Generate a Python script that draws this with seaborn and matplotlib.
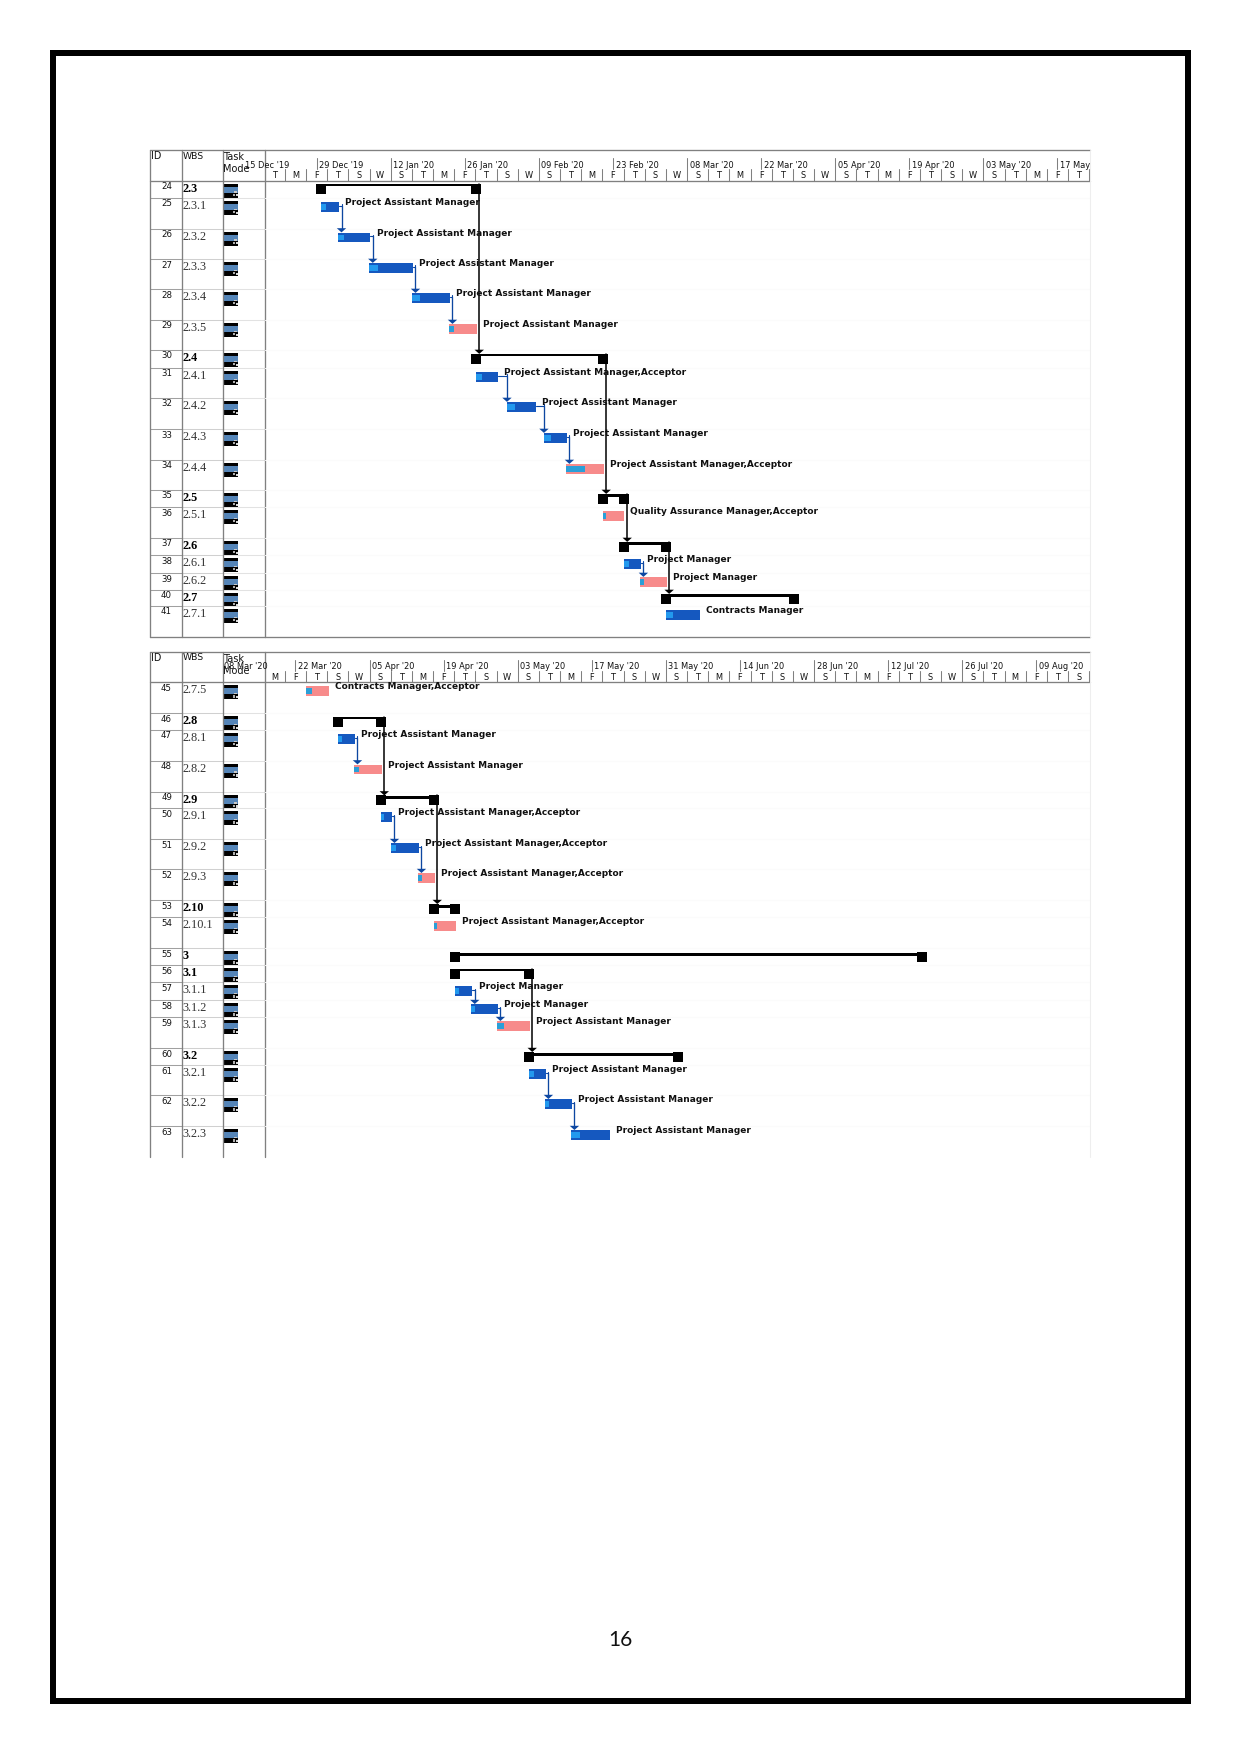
import matplotlib
matplotlib.use("Agg")
import matplotlib.pyplot as plt
import numpy as np
import pandas as pd
import seaborn as sns
from matplotlib.patches import Rectangle

# names used in the labels
PAM = "Project Assistant Manager"
PAMA = "Project Assistant Manager,Acceptor"
PM = "Project Manager"

# panel 1 (days are counted from p1_first_day)
p1_first_day = "2019-12-19"
p1_major = ["2019-12-15", "2019-12-29", "2020-01-12", "2020-01-26", "2020-02-09", "2020-02-23", "2020-03-08",
            "2020-03-22", "2020-04-05", "2020-04-19", "2020-05-03", "2020-05-17"]
p1_ids = [24, 25, 26, 27, 28, 29, 30, 31, 32, 33, 34, 35, 36, 37, 38, 39, 40, 41]
p1_wbs = ["2.3", "2.3.1", "2.3.2", "2.3.3", "2.3.4", "2.3.5", "2.4", "2.4.1", "2.4.2", "2.4.3", "2.4.4",
          "2.5", "2.5.1", "2.6", "2.6.1", "2.6.2", "2.7", "2.7.1"]
p1_summary = [24, 30, 35, 37, 40]
p1_critical = [29, 34, 36, 39]
p1_start = [10.67, 10.67, 13.89, 19.74, 27.87, 34.86, 39.96, 39.96, 45.82, 52.81, 56.96, 63.95, 63.95, 67.92,
            67.92, 70.94, 75.85, 75.85]
p1_finish = [39.96, 14.08, 19.99, 28.06, 35.05, 40.15, 63.95, 44.11, 51.29, 57.15, 64.14, 67.92, 67.92, 75.85,
             71.13, 76.04, 100.04, 82.28]
p1_progress = [0, 0.95, 1.13, 1.7, 1.5, 0.95, 0, 1.13, 1.5, 1.3, 3.6, 0, 0.65, 0, 1.0, 0.76, 0, 1.32]
p1_labels = ["", PAM, PAM, PAM, PAM, PAM, "", PAMA, PAM, PAM, PAMA, "", "Quality Assurance Manager,Acceptor", "",
             PM, PM, "", "Contracts Manager"]
p1_links = [(24, 30), (25, 26), (26, 27), (27, 28), (28, 29), (30, 35), (31, 32), (32, 33), (33, 34), (35, 37),
            (37, 40), (38, 39)]
p1_thin = [24, 30]
p1_row_h = [17.5, 30.5, 30.5, 30, 31, 30, 18, 30, 31, 31, 30, 17, 31, 17, 18, 17, 16, 31]

# panel 2
p2_first_day = "2020-03-16"
p2_major = ["2020-03-08", "2020-03-22", "2020-04-05", "2020-04-19", "2020-05-03", "2020-05-17", "2020-05-31",
            "2020-06-14", "2020-06-28", "2020-07-12", "2020-07-26", "2020-08-09"]
p2_ids = [45, 46, 47, 48, 49, 50, 51, 52, 53, 54, 55, 56, 57, 58, 59, 60, 61, 62, 63]
p2_wbs = ["2.7.5", "2.8", "2.8.1", "2.8.2", "2.9", "2.9.1", "2.9.2", "2.9.3", "2.10", "2.10.1", "3", "3.1",
          "3.1.1", "3.1.2", "3.1.3", "3.2", "3.2.1", "3.2.2", "3.2.3"]
p2_summary = [46, 49, 53, 55, 56, 60]
p2_critical = [45, 48, 52, 54, 59]
p2_start = [7.84, 13.89, 13.89, 16.91, 22.01, 22.01, 23.9, 29.0, 32.02, 32.02, 35.99, 35.99, 35.99, 39.01, 43.93,
            49.97, 49.97, 52.99, 57.91]
p2_finish = [12.19, 22.01, 17.1, 22.2, 32.02, 24.09, 29.19, 32.21, 35.99, 36.18, 124.22, 49.97, 39.26, 44.11,
             50.16, 78.12, 53.18, 58.1, 65.28]
p2_progress = [1.13, 0, 0.76, 0.95, 0, 0.57, 0.95, 0.76, 0, 0.57, 0, 0, 0.76, 0.76, 1.32, 0, 0.95, 0.76, 1.7]
p2_labels = ["Contracts Manager,Acceptor", "", PAM, PAM, "", PAMA, PAMA, PAMA, "", PAMA, "", "", PM, PM, PAM, "",
             PAM, PAM, PAM]
p2_links = [(46, 49), (47, 48), (49, 53), (50, 51), (51, 52), (56, 60), (57, 58), (58, 59), (61, 62), (62, 63)]
p2_thin = [46, 56]
p2_row_h = [31, 16.7, 30.7, 31, 16.6, 31, 30, 31, 17, 31, 17, 17, 18, 17, 31, 17, 30, 31, 30.4]

W, H = 1241, 1754
PPD = 5.293  # pixels per day
SPAN = 156   # days shown
PX = 0.72    # points per pixel at dpi 100
HEAD_SHIFT = -0.15  # header ticks sit a little left of the bars' scale
LEFT, COL1, COL2, COL3, RIGHT = 150, 181.5, 222.5, 264.5, 1090
GREY = "#808080"
BLUE, PINK = "#1558bf", "#f78b8b"
PROG, PROG_CRIT = "#2299ee", "#2a9fd8"
LINK = "#0d47a1"
INK = "#111111"

sns.set_theme(style="white")
plt.rcParams["font.family"] = "DejaVu Sans"

fig = plt.figure(figsize=(W / 100, H / 100), dpi=100, facecolor="white")


def px_axes(left, top, right, bottom):
    ax = fig.add_axes([left / W, 1 - bottom / H, (right - left) / W, (bottom - top) / H])
    ax.patch.set_alpha(0)
    return ax


def bar(ax, start, length, y, height, color):
    sns.barplot(x=[length], y=[y], left=start, orient="y", native_scale=True, width=height,
                color=color, saturation=1, linewidth=0, ax=ax)


def draw_panel(top, first_day, major, ids, wbs, summary, critical, start, finish, progress, labels, links, thin,
               row_h, closed):
    header = 30.6
    tops = np.concatenate([[0], np.cumsum(row_h)[:-1]])
    bottom = float(np.sum(row_h))
    ab = top + header + bottom
    tb = px_axes(LEFT, top, COL3, ab)
    ax = px_axes(COL3, top, RIGHT, ab)
    for a in (tb, ax):
        a.set_ylim(bottom, -header)

    centre = dict(zip(ids, tops + 8.7))
    days = dict(zip(ids, zip(start, finish)))

    # task bars and summary brackets
    for i, row in enumerate(ids):
        y = centre[row]
        s, f = start[i], finish[i]
        if row in summary:
            lw = 2 if row in thin else 3
            ax.plot([s, f], [y - 5 + lw / 2, y - 5 + lw / 2], color="black", lw=lw * PX, solid_capstyle="butt", zorder=3)
            sns.scatterplot(x=[s, f], y=[y, y], marker="s", s=52, color="black", linewidth=0, ax=ax, zorder=3)
        else:
            crit = row in critical
            bar(ax, s, f - s, y, 9.8, PINK if crit else BLUE)
            bar(ax, s, progress[i], y, 5.6, PROG_CRIT if crit else PROG)

    # links between tasks
    for a, b in links:
        is_sum = a in summary
        colour = "black" if is_sum else LINK
        f, next_s = days[a][1], days[b][0]
        if is_sum:
            x = f + 3.3 / PPD
            y0, y1 = centre[a] - 5, centre[b] - 5
        else:
            x = max(f + 2.5 / PPD, next_s)
            y0, y1 = centre[a] - 1, centre[b] - 5
            ax.plot([f, x, x], [y0, y0, y0 - 1.5], color=colour, lw=0.8, zorder=2)
        ax.plot([x, x], [y0, y1 - 3], color=colour, lw=1.1 if is_sum else 0.95, zorder=2)
        ax.fill([x - 4.7 / PPD, x + 4.7 / PPD, x], [y1 - 4.2, y1 - 4.2, y1], color=colour, lw=0, zorder=2)

    # resource labels
    for i, row in enumerate(ids):
        if labels[i]:
            ax.text(finish[i] + 6.3 / PPD, centre[row] - 4.2, labels[i], fontsize=9.0 * PX, fontweight="bold",
                    color=INK, va="center", ha="left", zorder=4)

    # timescale header
    origin = pd.Timestamp(first_day)
    for d in major:
        date = pd.Timestamp(d)
        pos = (date - origin).days + HEAD_SHIFT
        if pos >= 0:
            ax.plot([pos, pos], [-22.5, -11.5], color=GREY, lw=0.75)
        ax.text(pos + 2.6 / PPD, -15.5, date.strftime("%d %b '%y"), fontsize=8.3 * PX, color=INK, va="center",
                ha="left", clip_on=pos >= 0, zorder=5)
    minor = pd.date_range(origin, periods=SPAN // 4 + 1, freq="4D")
    for date in minor:
        pos = (date - origin).days + HEAD_SHIFT
        if pos > 0:
            ax.plot([pos, pos], [-11.5, 0], color=GREY, lw=0.75)
        ax.text(pos + 2, -5.3, date.day_name()[0], fontsize=8.3 * PX, color=INK, va="center", ha="center",
                clip_on=True)
    ax.set_xlim(0, SPAN)
    ax.set_ylim(bottom, -header)

    # grid of the sheet
    tb.set_xlim(LEFT, COL3)
    for y in tops[1:].tolist():
        tb.plot([LEFT, COL1], [y, y], color="#a0a0a0", lw=0.75)
        tb.plot([COL1, COL2], [y, y], color="#d0d0d0", lw=0.75)
        tb.plot([COL2, COL3], [y, y], color="#e2e2e2", lw=0.75)
        ax.plot([0, SPAN], [y, y], color="#fbfbfb", lw=0.75, zorder=0)
    for a, x0, x1 in ((tb, LEFT, COL3), (ax, 0, SPAN)):
        a.plot([x0, x1], [-header, -header], color=GREY, lw=0.95, clip_on=False)
        a.plot([x0, x1], [0, 0], color=GREY, lw=0.95, clip_on=False)
        if closed:
            a.plot([x0, x1], [bottom, bottom], color=GREY, lw=0.95, clip_on=False)
    for x in (LEFT, COL1, COL2, COL3):
        tb.plot([x, x], [-header, bottom], color=GREY, lw=0.95, clip_on=False)
    ax.plot([SPAN, SPAN], [-header, bottom], color="#eeeeee", lw=0.75, clip_on=False)

    tb.text(151, -24.5, "ID", fontsize=9.6 * PX, color=INK, va="center")
    tb.text(182.7, -24.5, "WBS", fontsize=9.3 * PX, color=INK, va="center")
    tb.text(223.3, -23.7, "Task", fontsize=9.8 * PX, color=INK, va="center")
    tb.text(223.3, -11.8, "Mode", fontsize=9.8 * PX, color=INK, va="center")

    for i, row in enumerate(ids):
        t = tops[i]
        tb.text(172, t + 5.8, str(row), fontsize=8.6 * PX, color=INK, va="center", ha="right")
        is_sum = row in summary
        tb.text(182.5, t + 8, wbs[i], fontsize=12.2 * PX, family="Liberation Serif",
                fontweight="bold" if is_sum else "normal", color="black" if is_sum else "#333333", va="center")
        # task mode icon
        tb.add_patch(Rectangle((224, t + 3), 14, 14, color="black", lw=0))
        tb.add_patch(Rectangle((224, t + 5.8), 14, 6, color="#5585b8", lw=0))
        tb.add_patch(Rectangle((233.5, t + 10.5), 3.8, 1.6, color="#c8c8c8", lw=0))
        tb.add_patch(Rectangle((232.5, t + 13), 2.2, 2.2, color="#b0b0b0", lw=0))
        tb.add_patch(Rectangle((235.5, t + 13.6), 2, 2.2, color="#d8d8d8", lw=0))

    tb.set_ylim(bottom, -header)
    for a in (tb, ax):
        a.set_xlabel("")
        a.set_ylabel("")
        a.set_axis_off()


# page frame and page number
page = px_axes(0, 0, W, H)
page.set_xlim(0, W)
page.set_ylim(H, 0)
page.add_patch(Rectangle((53, 53), 1134.5, 1648, fill=False, edgecolor="black", lw=6 * PX, joinstyle="miter"))
page.text(620, 1640, "16", fontsize=15, family="Lato", color="#111111", ha="center", va="center")
page.set_axis_off()

draw_panel(150.1, p1_first_day, p1_major, p1_ids, p1_wbs, p1_summary, p1_critical, p1_start, p1_finish, p1_progress,
           p1_labels, p1_links, p1_thin, p1_row_h, True)
draw_panel(651.7, p2_first_day, p2_major, p2_ids, p2_wbs, p2_summary, p2_critical, p2_start, p2_finish, p2_progress,
           p2_labels, p2_links, p2_thin, p2_row_h, False)

plt.savefig("out.png", dpi=100, facecolor="white")
